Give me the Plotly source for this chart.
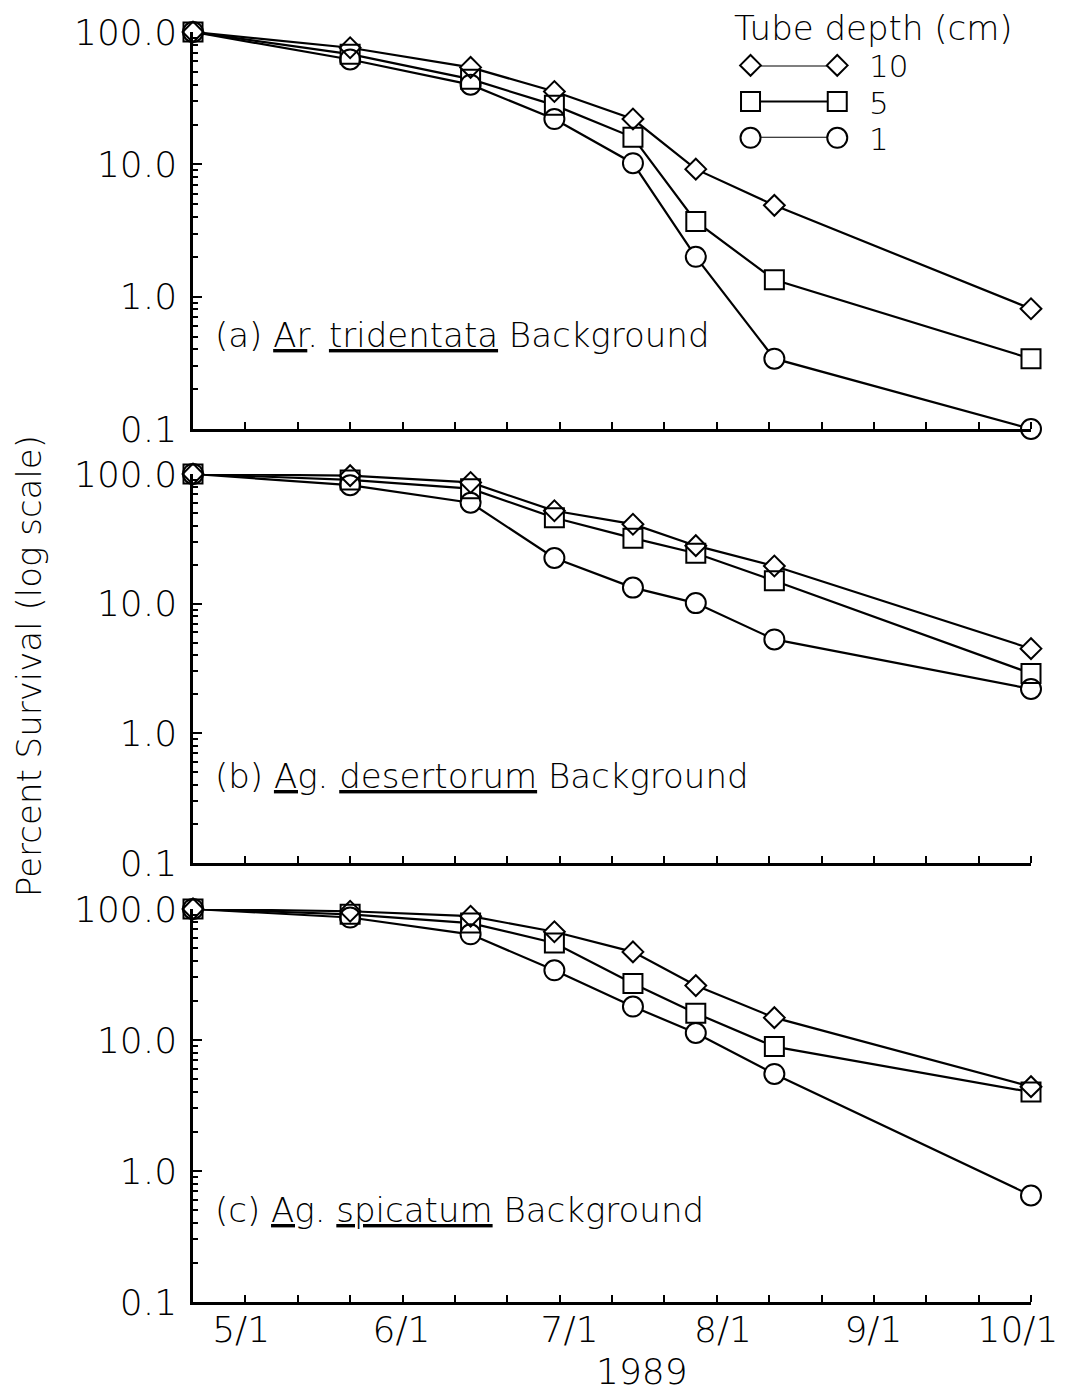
import plotly.graph_objects as go

# Sampling dates as day of year, 1989
days = [110, 140, 163, 179, 194, 206, 221, 270]

# Percent survival by tube depth (cm) for each background
tri_10 = [100, 76, 54, 35.5, 22, 9.2, 4.9, 0.81]
tri_5 = [100, 68, 44, 28, 16, 3.7, 1.34, 0.34]
tri_1 = [100, 62, 40, 22, 10.2, 2.0, 0.34, 0.10]

des_10 = [100, 97, 86, 52, 41, 28, 19.5, 4.5]
des_5 = [100, 90, 77, 46, 32, 24.5, 15, 2.9]
des_1 = [100, 82, 60, 22.5, 13.3, 10.1, 5.3, 2.2]

spi_10 = [100, 96, 88, 67, 47, 26, 14.8, 4.4]
spi_5 = [100, 91, 78, 55, 27, 16, 8.9, 4.0]
spi_1 = [100, 86, 64, 34, 18, 11.3, 5.5, 0.65]

depths = ["10", "5", "1"]
symbols = ["diamond", "square", "circle"]
marker_sizes = [16, 19, 20]

panel_titles = [
    "(a) <u>Ar</u>. <u>tridentata</u> Background",
    "(b) <u>Ag</u>. <u>desertorum</u> Background",
    "(c) <u>Ag</u>. <u>spicatum</u> Background",
]

# Month labels along the date axis (day-of-year positions)
month_label_days = [119.2, 149.8, 181.9, 211.2, 239.9, 267.5]
month_labels = ["5/1", "6/1", "7/1", "8/1", "9/1", "10/1"]

y_tickvals = [0.1, 1, 10, 100]
y_ticktext = ["0.1", "1.0", "10.0", "100.0"]

FONT = "DejaVu Sans"
WEIGHT = 300
INK = "black"

panels = [
    (tri_10, tri_5, tri_1),
    (des_10, des_5, des_1),
    (spi_10, spi_5, spi_1),
]
domains = [[0.6874, 1.0], [0.3456, 0.6520], [0.0, 0.3095]]

fig = go.Figure()

for p, series in enumerate(panels):
    xa = "x" if p == 0 else f"x{p + 1}"
    ya = "y" if p == 0 else f"y{p + 1}"
    # connecting lines first
    for vals in series:
        fig.add_trace(go.Scatter(
            x=days, y=vals, mode="lines", xaxis=xa, yaxis=ya,
            line=dict(color=INK, width=2.2), cliponaxis=False,
            showlegend=False, hoverinfo="skip"))
    # white discs hide the lines inside each marker
    for vals, sym, sz in zip(series, symbols, marker_sizes):
        fig.add_trace(go.Scatter(
            x=days, y=vals, mode="markers", xaxis=xa, yaxis=ya,
            marker=dict(symbol=sym, size=sz, color="white", line=dict(width=0)),
            cliponaxis=False, showlegend=False, hoverinfo="skip"))
    # hollow outlines on top so overlapping markers all stay visible
    for vals, sym, sz, d in zip(series, symbols, marker_sizes, depths):
        fig.add_trace(go.Scatter(
            x=days, y=vals, mode="markers", xaxis=xa, yaxis=ya, name=d,
            marker=dict(symbol=sym + "-open", size=sz, color=INK,
                        line=dict(width=2, color=INK)),
            cliponaxis=False, showlegend=False))

# Legend key: two markers joined by a line per depth
key_rows = [2, 1, 0]
for sym, sz, row, d in zip(symbols, marker_sizes, key_rows, depths):
    fig.add_trace(go.Scatter(
        x=[0, 1], y=[row, row], mode="lines", xaxis="x4", yaxis="y4",
        line=dict(color=INK, width=2), cliponaxis=False,
        showlegend=False, hoverinfo="skip"))
    fig.add_trace(go.Scatter(
        x=[0, 1], y=[row, row], mode="markers", xaxis="x4", yaxis="y4",
        marker=dict(symbol=sym, size=sz, color="white",
                    line=dict(width=2, color=INK)),
        cliponaxis=False, showlegend=False, hoverinfo="skip"))
    fig.add_annotation(x=1, y=row, xref="x4", yref="y4", text=d,
                       showarrow=False, xanchor="left", yanchor="middle",
                       xshift=30, yshift=-1,
                       font=dict(family=FONT, size=31, color=INK, weight=WEIGHT))

axis_font = dict(family=FONT, size=36, color=INK, weight=WEIGHT)
minor_x = list(range(120, 271, 10))
minor_y = [k * 10 ** e for e in (-1, 0, 1) for k in range(2, 10)]

layout = dict(
    width=1070, height=1394,
    margin=dict(l=193, r=37, t=29, b=92),
    paper_bgcolor="white", plot_bgcolor="white",
    showlegend=False,
)

for p in range(3):
    xk = "xaxis" if p == 0 else f"xaxis{p + 1}"
    yk = "yaxis" if p == 0 else f"yaxis{p + 1}"
    ya = "y" if p == 0 else f"y{p + 1}"
    xa = "x" if p == 0 else f"x{p + 1}"
    layout[xk] = dict(
        range=[110, 270], anchor=ya, domain=[0, 1],
        showline=True, linecolor=INK, linewidth=2.5,
        showgrid=False, zeroline=False,
        tickmode="array", tickvals=month_label_days, ticktext=month_labels,
        ticks="", showticklabels=(p == 2), tickfont=axis_font,
        ticklabelstandoff=-6,
        minor=dict(tickmode="array", tickvals=minor_x, ticks="inside",
                   ticklen=7, tickwidth=2, tickcolor=INK, showgrid=False),
    )
    layout[yk] = dict(
        type="log", range=[-1, 2], anchor=xa, domain=domains[p],
        showline=True, linecolor=INK, linewidth=2.5,
        showgrid=False, zeroline=False,
        tickmode="array", tickvals=y_tickvals, ticktext=y_ticktext,
        ticks="inside", ticklen=9, tickwidth=2, tickcolor=INK,
        tickfont=axis_font, ticklabelstandoff=6,
        minor=dict(tickmode="array", tickvals=minor_y, ticks="inside",
                   ticklen=5, tickwidth=1.5, tickcolor=INK, showgrid=False),
    )

layout["xaxis4"] = dict(domain=[0.6653, 0.7688], range=[0, 1], anchor="y4",
                        visible=False, fixedrange=True)
layout["yaxis4"] = dict(domain=[0.9167, 0.9737], range=[0, 2], anchor="x4",
                        visible=False, fixedrange=True)

fig.update_layout(**layout)

# Panel captions
panel_y = [0.236, 0.223, 0.234]
for p, title in enumerate(panel_titles):
    xr = "x domain" if p == 0 else f"x{p + 1} domain"
    yr = "y domain" if p == 0 else f"y{p + 1} domain"
    fig.add_annotation(x=0.024, y=panel_y[p], xref=xr, yref=yr, text=title,
                       showarrow=False, xanchor="left", yanchor="middle",
                       font=dict(family=FONT, size=34, color=INK, weight=WEIGHT))

fig.add_annotation(x=0.6427, y=1.0, xref="paper", yref="paper",
                   text="Tube depth (cm)", showarrow=False,
                   xanchor="left", yanchor="middle", yshift=4,
                   font=dict(family=FONT, size=34, color=INK, weight=WEIGHT))

fig.add_annotation(x=-0.1949, y=0.5004, xref="paper", yref="paper",
                   text="Percent Survival (log scale)", textangle=-90,
                   showarrow=False, xanchor="center", yanchor="middle",
                   font=dict(family=FONT, size=34, color=INK, weight=WEIGHT))

fig.add_annotation(x=0.5356, y=-0.0545, xref="paper", yref="paper",
                   text="1989", showarrow=False,
                   xanchor="center", yanchor="middle",
                   font=dict(family=FONT, size=36, color=INK, weight=WEIGHT))

fig.write_html("out.html")
